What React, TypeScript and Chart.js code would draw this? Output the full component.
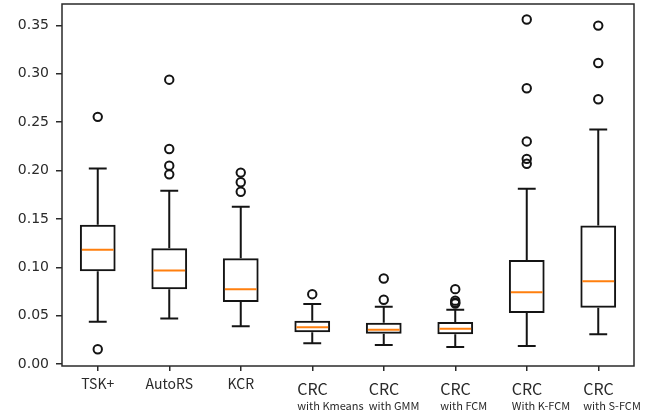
import React, { useEffect, useRef } from "react";
import { Chart, registerables } from "chart.js";

Chart.register(...registerables);

const categories = ["TSK+", "AutoRS", "KCR", "CRC with Kmeans", "CRC with GMM", "CRC with FCM", "CRC With K-FCM", "CRC with S-FCM"];
const labelMain = ["TSK+", "AutoRS", "KCR", "CRC", "CRC", "CRC", "CRC", "CRC"];
const labelSub = ["", "", "", "with Kmeans", "with GMM", "with FCM", "With K-FCM", "with S-FCM"];

const whiskerLow = [0.0437, 0.0472, 0.039, 0.0215, 0.0198, 0.0177, 0.0187, 0.0308];
const q1 = [0.096, 0.0774, 0.064, 0.0328, 0.0314, 0.0308, 0.0527, 0.0581];
const median = [0.118, 0.0966, 0.0774, 0.038, 0.0355, 0.0365, 0.0743, 0.0856];
const q3 = [0.144, 0.1196, 0.1093, 0.0448, 0.0427, 0.0434, 0.1075, 0.1432];
const whiskerHigh = [0.202, 0.179, 0.1625, 0.062, 0.0592, 0.056, 0.181, 0.2423];
const outliers: number[][] = [
  [0.2554, 0.0153],
  [0.2938, 0.2222, 0.205, 0.196],
  [0.1978, 0.1878, 0.178],
  [0.0722],
  [0.0884, 0.0664],
  [0.0774, 0.0655, 0.0635, 0.0625],
  [0.356, 0.285, 0.23, 0.212, 0.207],
  [0.3497, 0.311, 0.2736],
];
const yTicks = [0, 0.05, 0.1, 0.15, 0.2, 0.25, 0.3, 0.35];

const LINE = "#141414";

const boxPlugin = {
  id: "boxExtras",
  afterDatasetsDraw(chart: any) {
    const ctx = chart.ctx;
    const xs = chart.scales.x;
    const ys = chart.scales.y;
    const meta = chart.getDatasetMeta(0);
    ctx.save();
    for (let i = 0; i < categories.length; i++) {
      const bar = meta.data[i];
      const x = xs.getPixelForValue(i);
      const half = bar.width / 2;
      const cap = bar.width / 4;
      ctx.strokeStyle = LINE;
      ctx.lineWidth = 2;
      ctx.beginPath();
      ctx.moveTo(x, ys.getPixelForValue(q3[i]));
      ctx.lineTo(x, ys.getPixelForValue(whiskerHigh[i]));
      ctx.moveTo(x, ys.getPixelForValue(q1[i]));
      ctx.lineTo(x, ys.getPixelForValue(whiskerLow[i]));
      const yh = ys.getPixelForValue(whiskerHigh[i]);
      const yl = ys.getPixelForValue(whiskerLow[i]);
      ctx.moveTo(x - cap, yh);
      ctx.lineTo(x + cap, yh);
      ctx.moveTo(x - cap, yl);
      ctx.lineTo(x + cap, yl);
      ctx.stroke();
      const ym = ys.getPixelForValue(median[i]);
      ctx.strokeStyle = "#ff7f0e";
      ctx.lineWidth = 2;
      ctx.beginPath();
      ctx.moveTo(x - half + 2, ym);
      ctx.lineTo(x + half - 2, ym);
      ctx.stroke();
    }
    // frame
    const a = chart.chartArea;
    ctx.strokeStyle = "#2a2a2a";
    ctx.lineWidth = 1.5;
    ctx.strokeRect(a.left, a.top, a.right - a.left, a.bottom - a.top);
    // x labels
    ctx.fillStyle = "#2a2a2a";
    ctx.textBaseline = "middle";
    for (let i = 0; i < categories.length; i++) {
      const x = xs.getPixelForValue(i);
      if (labelSub[i]) {
        ctx.textAlign = "left";
        ctx.font = '16px "Noto Sans CJK SC", "Noto Sans", sans-serif';
        ctx.fillText(labelMain[i], x - 15, a.bottom + 23);
        ctx.font = '11px "Noto Sans CJK SC", "Noto Sans", sans-serif';
        ctx.fillText(labelSub[i], x - 15, a.bottom + 40);
      } else {
        ctx.textAlign = "center";
        ctx.font = '14px "Noto Sans CJK SC", "Noto Sans", sans-serif';
        ctx.fillText(labelMain[i], x, a.bottom + 18);
      }
    }
    ctx.restore();
  },
};

export default function App() {
  const ref = useRef<HTMLCanvasElement>(null);
  useEffect(() => {
    if (!ref.current) return;
    const outlierPoints: { x: string; y: number }[] = [];
    outliers.forEach((arr, i) => arr.forEach((v) => outlierPoints.push({ x: categories[i], y: v })));
    const chart = new Chart(ref.current, {
      type: "bar",
      data: {
        labels: categories,
        datasets: [
          {
            type: "bar",
            data: categories.map((_, i) => [q1[i], q3[i]]) as any,
            backgroundColor: "rgba(0,0,0,0)",
            borderColor: LINE,
            borderWidth: 2,
            borderSkipped: false,
            barPercentage: 0.5,
            categoryPercentage: 1,
          },
          {
            type: "line",
            data: outlierPoints as any,
            showLine: false,
            pointStyle: "circle",
            pointRadius: 4.2,
            pointBorderWidth: 2,
            pointBorderColor: LINE,
            pointBackgroundColor: "rgba(0,0,0,0)",
          } as any,
        ],
      },
      options: {
        responsive: false,
        animation: false,
        layout: { autoPadding: false, padding: { top: 4, right: 21, left: 0, bottom: 0 } },
        plugins: { legend: { display: false }, tooltip: { enabled: false } },
        scales: {
          x: {
            type: "category",
            offset: true,
            grid: { offset: false, drawOnChartArea: false, drawTicks: true, tickLength: 5, color: "#2a2a2a", lineWidth: 1.5 },
            border: { display: false },
            ticks: { display: false },
            afterFit: (s: any) => { s.height = 47; s.paddingLeft = 0; s.paddingRight = 0; },
          },
          y: {
            min: -0.002,
            max: 0.372,
            afterBuildTicks: (s: any) => { s.ticks = yTicks.map((v) => ({ value: v })); },
            ticks: {
              callback: (v: any) => Number(v).toFixed(2),
              font: { family: '"DejaVu Sans", sans-serif', size: 14 },
              color: "#2a2a2a",
              padding: 7,
            },
            grid: { drawOnChartArea: false, drawTicks: true, tickLength: 6, color: "#2a2a2a", lineWidth: 1.5 },
            border: { display: false },
            afterFit: (s: any) => { s.width = 62; s.paddingTop = 0; s.paddingBottom = 0; },
          },
        },
      },
      plugins: [boxPlugin],
    });
    return () => chart.destroy();
  }, []);
  return (
    <div style={{ position: "fixed", left: 0, top: 0, width: 655, height: 413, background: "#fff" }}>
      <canvas ref={ref} width={655} height={413} />
    </div>
  );
}
